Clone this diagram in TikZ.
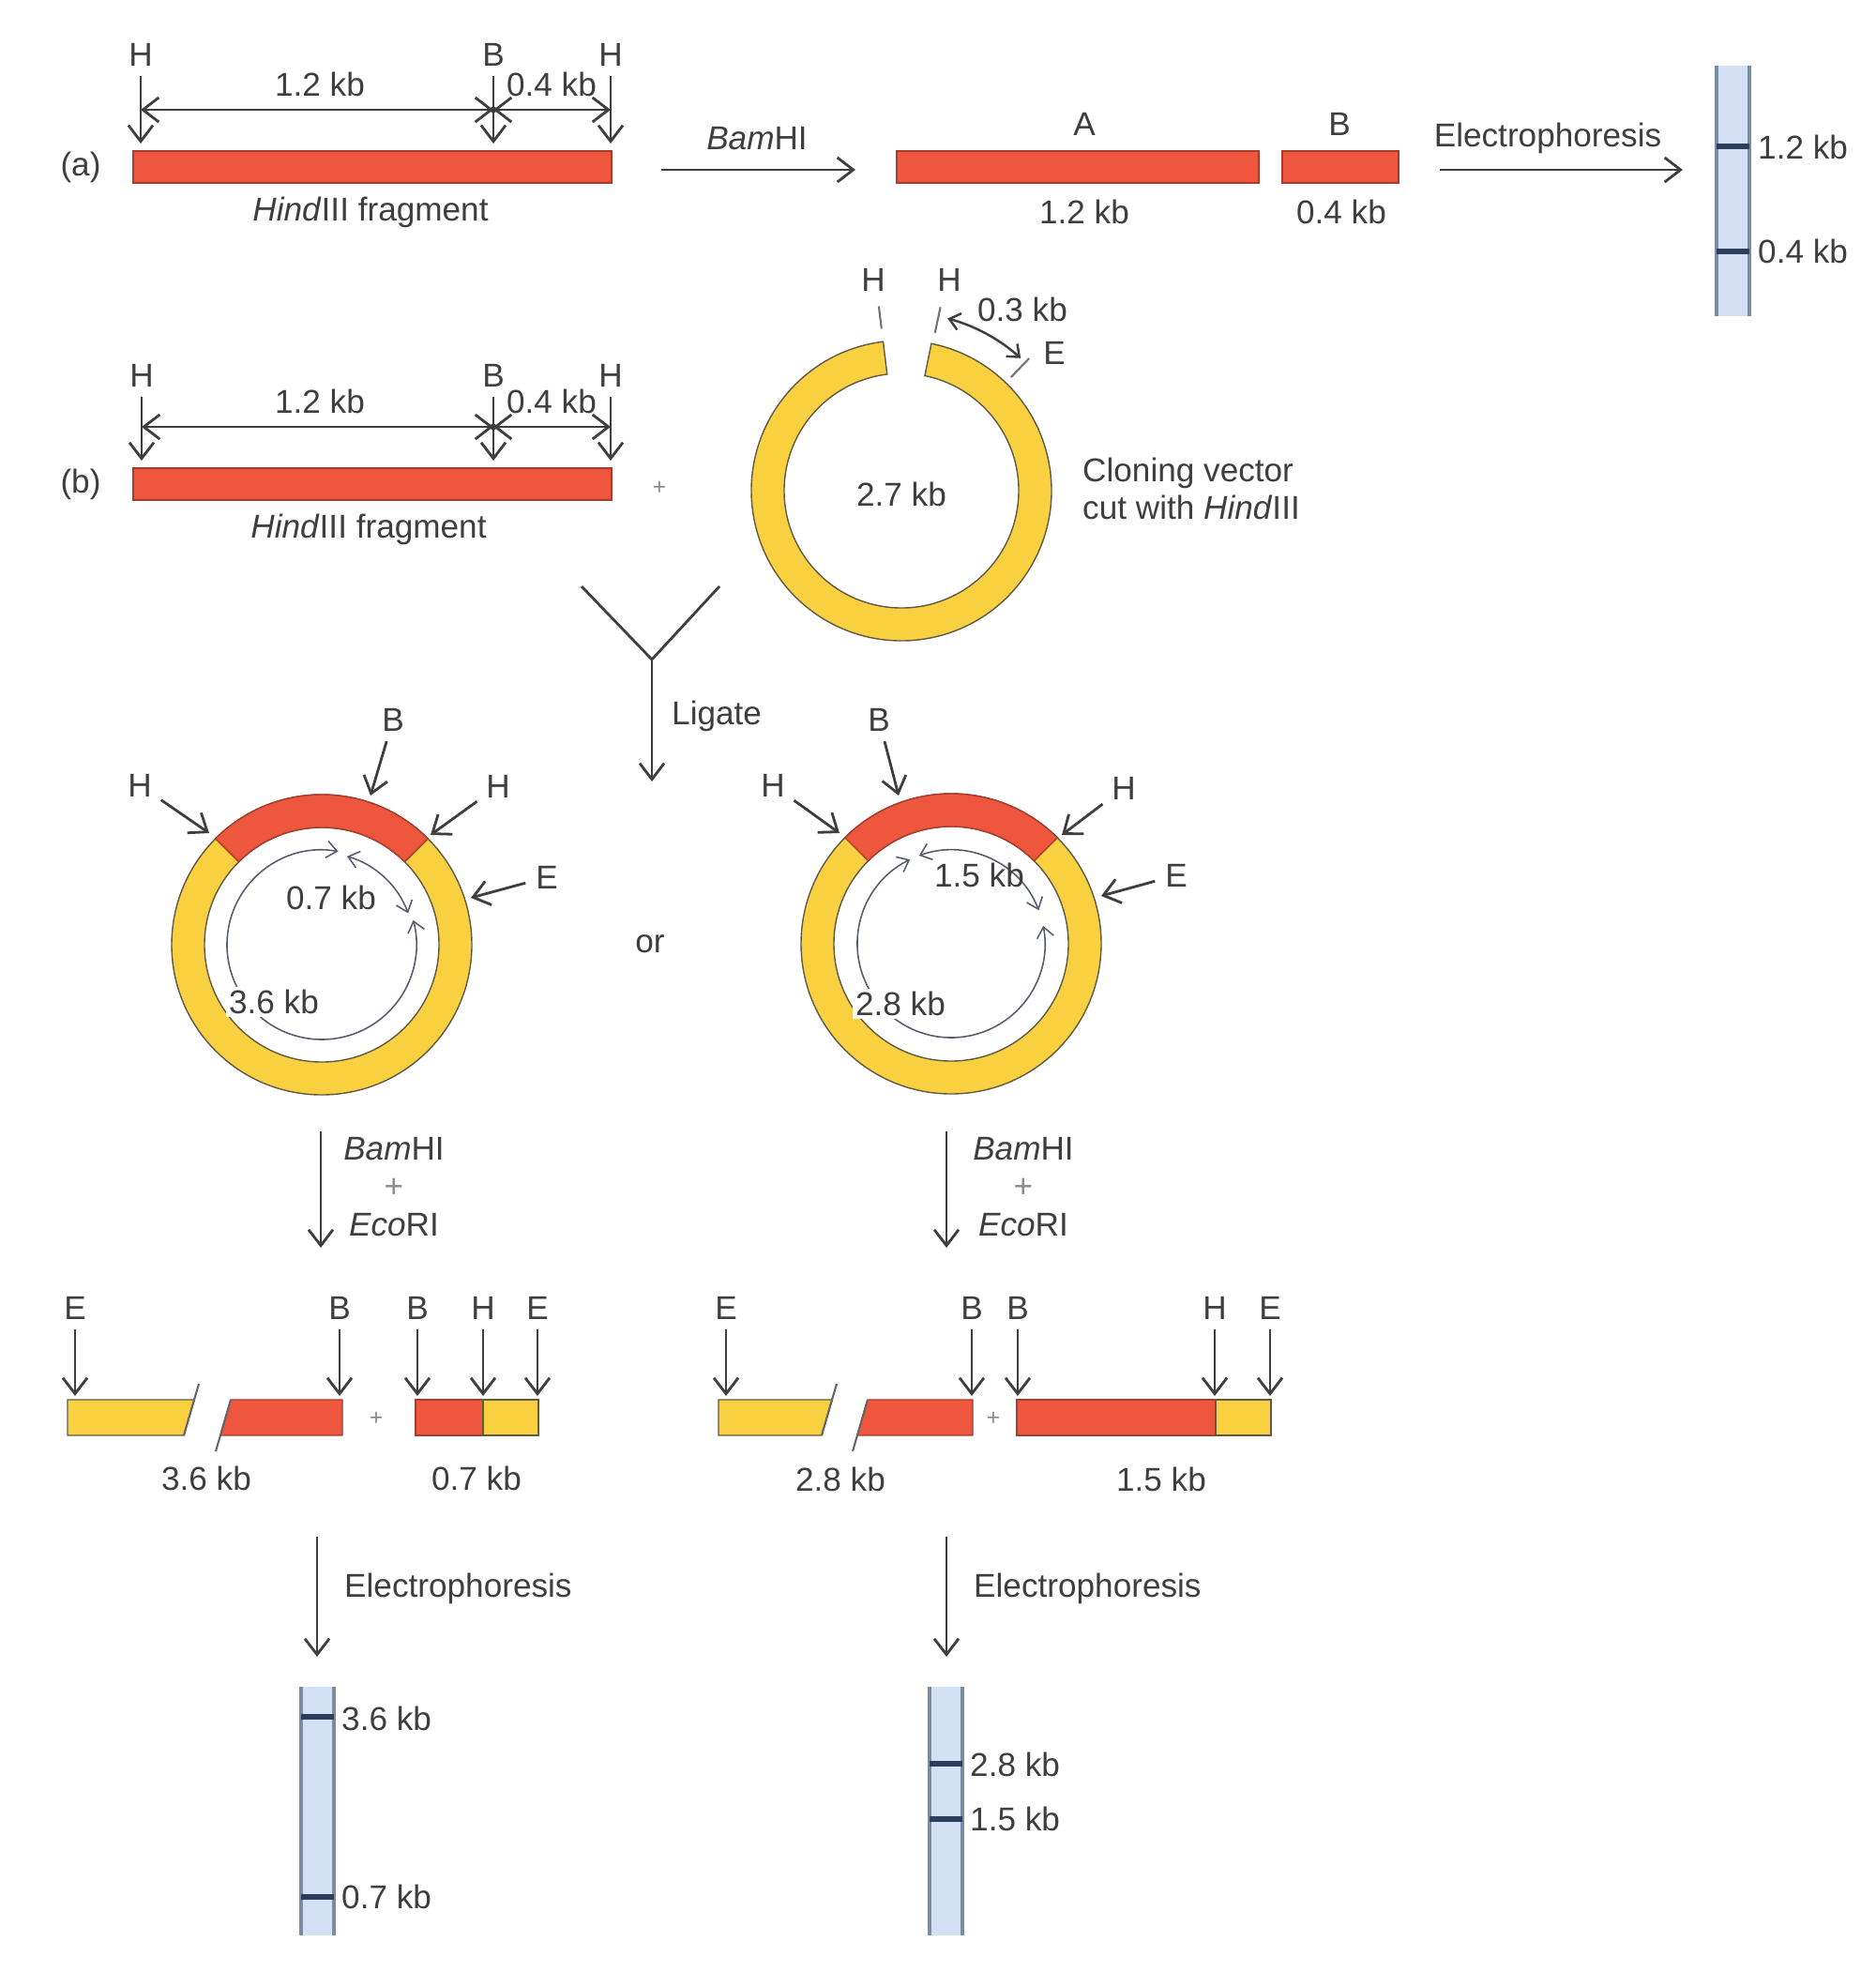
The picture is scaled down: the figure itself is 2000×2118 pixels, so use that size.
\documentclass[tikz,border=0pt]{standalone}
\usepackage{fontspec}
\setmainfont{Liberation Sans}
\usetikzlibrary{arrows.meta}
\definecolor{fragred}{RGB}{238,86,62}
\definecolor{vecyellow}{RGB}{249,208,64}
\definecolor{ringedge}{RGB}{95,90,70}
\definecolor{gelblue}{RGB}{210,225,243}
\definecolor{gelline}{RGB}{125,140,165}
\definecolor{bandcol}{RGB}{45,62,92}
\definecolor{inkgray}{RGB}{62,62,62}
\definecolor{arcgray}{RGB}{88,92,112}
\newcommand{\lblfont}{\fontsize{10}{11.4}\selectfont}
% annular piece of a plasmid ring: centre, from angle, to angle, style
\newcommand{\ringpart}[4]{%
  \draw[#4]
    ([shift={(#1)}]#2:160) arc[start angle=#2, end angle=#3, radius=160]
    -- ([shift={(#1)}]#3:125) arc[start angle=#3, end angle=#2, radius=125] -- cycle;}

\begin{document}
\begin{tikzpicture}[x=0.01cm, y=0.01cm,
  every node/.style={font=\lblfont, text=inkgray, inner sep=1pt},
  >={Straight Barb[length=1.7mm,width=2.6mm]},
  flow/.style={draw=inkgray, line width=0.8pt, ->},
  site/.style={draw=inkgray, line width=0.8pt, ->, shorten <=2pt},
  dimline/.style={draw=inkgray, line width=0.8pt, <->},
  redpiece/.style={fill=fragred, draw=fragred!70!black, line width=0.4pt},
  yelpiece/.style={fill=vecyellow, draw=ringedge, line width=0.4pt},
  breakline/.style={draw=black!60, line width=0.6pt},
  tickline/.style={draw=black!55, line width=0.6pt},
  innerarc/.style={draw=arcgray, line width=0.45pt, >={Straight Barb[length=1.1mm,width=1.8mm]}, <->},
  lanefill/.style={fill=gelblue, draw=none},
  laneedge/.style={draw=gelline, line width=1.2pt},
  bandline/.style={draw=bandcol, line width=1.8pt},
  faint/.style={text=black!45, font=\fontsize{7}{8}\selectfont}]

  \useasboundingbox (0,0) rectangle (2000,-2118);

  % ---------------- (a) BamHI digest of the HindIII fragment ----------------
  \node (aTag) at (86,-178) {(a)};
  \node (aH1) at (150,-58) {H};
  \node (aB)  at (526,-58) {B};
  \node (aH2) at (651,-58) {H};
  \coordinate (aH1t) at (150,-153);
  \coordinate (aBt)  at (526,-153);
  \coordinate (aH2t) at (651,-153);
  \draw[site] (aH1) -- (aH1t);
  \draw[site] (aB)  -- (aBt);
  \draw[site] (aH2) -- (aH2t);
  \coordinate (aD1) at (150,-117);
  \coordinate (aD2) at (526,-117);
  \coordinate (aD3) at (651,-117);
  \draw[dimline] (aD1) -- (aD2);
  \draw[dimline] (aD2) -- (aD3);
  \fill[inkgray] (aD2) circle (3.5);
  \node (aL12) at (341,-90) {1.2 kb};
  \node (aL04) at (588,-90) {0.4 kb};
  \draw[redpiece] (142,-161) rectangle (652,-195);
  \node (aFrag) at (395,-226) {\textit{Hind}III fragment};

  \coordinate (aCut1) at (705,-181);
  \coordinate (aCut2) at (912,-181);
  \draw[flow] (aCut1) -- (aCut2);
  \node (aBam) at (807,-148) {\textit{Bam}HI};

  % the two pieces
  \draw[redpiece] (956,-161) rectangle (1342,-195);
  \draw[redpiece] (1367,-161) rectangle (1491,-195);
  \node (aA)    at (1156,-132) {A};
  \node (aBB)   at (1428,-132) {B};
  \node (aA12)  at (1156,-226) {1.2 kb};
  \node (aB04)  at (1430,-226) {0.4 kb};

  \coordinate (aRun1) at (1535,-181);
  \coordinate (aRun2) at (1794,-181);
  \draw[flow] (aRun1) -- (aRun2);
  \node (aElec) at (1650,-147) {Electrophoresis};

  % gel lane
  \fill[lanefill] (1830,-70) rectangle (1865,-337);
  \draw[laneedge] (1830,-70) -- (1830,-337) (1865,-70) -- (1865,-337);
  \draw[bandline] (1830,-156) -- (1865,-156);
  \draw[bandline] (1830,-268) -- (1865,-268);
  \node[anchor=west] (aG12) at (1870,-157) {1.2 kb};
  \node[anchor=west] (aG04) at (1870,-268) {0.4 kb};

  % ---------------- (b) fragment and cut vector ----------------
  \node (bTag) at (86,-516) {(b)};
  \node (bH1) at (151,-400) {H};
  \node (bB)  at (526,-400) {B};
  \node (bH2) at (651,-400) {H};
  \coordinate (bH1t) at (151,-491);
  \coordinate (bBt)  at (526,-491);
  \coordinate (bH2t) at (651,-491);
  \draw[site] (bH1) -- (bH1t);
  \draw[site] (bB)  -- (bBt);
  \draw[site] (bH2) -- (bH2t);
  \coordinate (bD1) at (151,-455);
  \coordinate (bD2) at (526,-455);
  \coordinate (bD3) at (651,-455);
  \draw[dimline] (bD1) -- (bD2);
  \draw[dimline] (bD2) -- (bD3);
  \fill[inkgray] (bD2) circle (3.5);
  \node (bL12) at (341,-428) {1.2 kb};
  \node (bL04) at (588,-428) {0.4 kb};
  \draw[redpiece] (142,-499) rectangle (652,-533);
  \node (bFrag) at (393,-564) {\textit{Hind}III fragment};
  \node[faint] (bPlus) at (703,-520) {+};

  % vector opened at its HindIII site
  \coordinate (C0) at (961,-523);
  \ringpart{C0}{97}{438.5}{yelpiece}
  \draw[tickline] ([shift={(C0)}]97:174) -- ([shift={(C0)}]97:198);
  \draw[tickline] ([shift={(C0)}]78:172) -- ([shift={(C0)}]78:200);
  \draw[tickline] ([shift={(C0)}]46:168) -- ([shift={(C0)}]46:196);
  \node (vH1) at (931,-298) {H};
  \node (vH2) at (1012,-298) {H};
  \node (vE)  at (1124,-376) {E};
  \draw[innerarc, line width=0.7pt, draw=inkgray] ([shift={(C0)}]75:190) arc[start angle=75, end angle=48, radius=190];
  \node (v03) at (1090,-330) {0.3 kb};
  \node (v27) at (961,-527) {2.7 kb};
  \node[anchor=west, align=left] (vText) at (1150,-521) {Cloning vector\\cut with \textit{Hind}III};

  % ligation
  \coordinate (yL) at (620,-625);
  \coordinate (yR) at (767,-625);
  \coordinate (yJ) at (695,-703);
  \coordinate (yEnd) at (695,-833);
  \draw[draw=inkgray, line width=0.8pt] (yL) -- (yJ) -- (yR);
  \draw[flow] (yJ) -- (yEnd);
  \node[anchor=west] (yLig) at (712,-763) {Ligate};
  \node (orWord) at (693,-1006) {or};

  % ---------------- recombinant plasmid 1 ----------------
  \coordinate (C1) at (343,-1007);
  \filldraw[fill=vecyellow, draw=ringedge, line width=0.4pt, even odd rule] (C1) circle (160) (C1) circle (125);
  \ringpart{C1}{45}{135}{redpiece}
  \node (pH1) at (149,-837) {H};
  \node (pB)  at (419,-767) {B};
  \node (pH2) at (531,-838) {H};
  \node (pE)  at (583,-935) {E};
  \coordinate (pH1t) at (223,-888);
  \coordinate (pBt)  at (395,-848);
  \coordinate (pH2t) at (459,-890);
  \coordinate (pEt)  at (502,-957);
  \draw[site] (pH1) -- (pH1t);
  \draw[site] (pB)  -- (pBt);
  \draw[site] (pH2) -- (pH2t);
  \draw[site] (pE)  -- (pEt);
  \draw[innerarc] ([shift={(C1)}]74:98) arc[start angle=74, end angle=20, radius=98];
  \draw[innerarc] ([shift={(C1)}]80:101) arc[start angle=80, end angle=375, radius=101];
  \node (p07) at (353,-957) {0.7 kb};
  \node[fill=white] (p36) at (292,-1068) {3.6 kb};

  % ---------------- recombinant plasmid 2 ----------------
  \coordinate (C2) at (1014,-1006);
  \filldraw[fill=vecyellow, draw=ringedge, line width=0.4pt, even odd rule] (C2) circle (160) (C2) circle (125);
  \ringpart{C2}{45}{135}{redpiece}
  \node (qH1) at (824,-837) {H};
  \node (qB)  at (937,-767) {B};
  \node (qH2) at (1198,-840) {H};
  \node (qE)  at (1254,-933) {E};
  \coordinate (qH1t) at (895,-888);
  \coordinate (qBt)  at (958,-848);
  \coordinate (qH2t) at (1132,-890);
  \coordinate (qEt)  at (1174,-955);
  \draw[site] (qH1) -- (qH1t);
  \draw[site] (qB)  -- (qBt);
  \draw[site] (qH2) -- (qH2t);
  \draw[site] (qE)  -- (qEt);
  \draw[innerarc] ([shift={(C2)}]110:100) arc[start angle=110, end angle=21, radius=100];
  \draw[innerarc] ([shift={(C2)}]116:100) arc[start angle=116, end angle=371, radius=100];
  \node (q15) at (1044,-933) {1.5 kb};
  \node[fill=white] (q28) at (960,-1070) {2.8 kb};

  % ---------------- double digests ----------------
  \coordinate (dL1) at (342,-1206);
  \coordinate (dL2) at (342,-1330);
  \draw[flow] (dL1) -- (dL2);
  \node[align=center] (dLtxt) at (420,-1265) {\textit{Bam}HI\\\textcolor{black!45}{+}\\\textit{Eco}RI};
  \coordinate (dR1) at (1009,-1206);
  \coordinate (dR2) at (1009,-1330);
  \draw[flow] (dR1) -- (dR2);
  \node[align=center] (dRtxt) at (1091,-1265) {\textit{Bam}HI\\\textcolor{black!45}{+}\\\textit{Eco}RI};

  % left products
  \draw[yelpiece] (72,-1492) -- (207,-1492) -- (196,-1530) -- (72,-1530) -- cycle;
  \draw[breakline] (196,-1530) -- (212,-1475);
  \draw[redpiece] (246,-1492) -- (365,-1492) -- (365,-1530) -- (235,-1530) -- cycle;
  \draw[breakline] (246,-1492) -- (230,-1547);
  \draw[redpiece] (443,-1492) rectangle (515,-1530);
  \draw[yelpiece] (515,-1492) rectangle (574,-1530);
  \node[faint] (rPlusL) at (401,-1512) {+};
  \node (rE1) at (80,-1394) {E};
  \node (rB1) at (362,-1394) {B};
  \node (rB2) at (445,-1394) {B};
  \node (rH1) at (515,-1394) {H};
  \node (rE2) at (573,-1394) {E};
  \foreach \s/\x in {rE1/80, rB1/362, rB2/445, rH1/515, rE2/573}
    \draw[site] (\s) -- (\x,-1488);
  \node (r36) at (220,-1576) {3.6 kb};
  \node (r07) at (508,-1576) {0.7 kb};

  % right products
  \draw[yelpiece] (766,-1492) -- (887,-1492) -- (876,-1530) -- (766,-1530) -- cycle;
  \draw[breakline] (876,-1530) -- (892,-1475);
  \draw[redpiece] (925,-1492) -- (1037,-1492) -- (1037,-1530) -- (914,-1530) -- cycle;
  \draw[breakline] (925,-1492) -- (909,-1547);
  \draw[redpiece] (1084,-1492) rectangle (1296,-1530);
  \draw[yelpiece] (1296,-1492) rectangle (1355,-1530);
  \node[faint] (rPlusR) at (1059,-1512) {+};
  \node (sE1) at (774,-1394) {E};
  \node (sB1) at (1036,-1394) {B};
  \node (sB2) at (1085,-1394) {B};
  \node (sH1) at (1295,-1394) {H};
  \node (sE2) at (1354,-1394) {E};
  \foreach \s/\x in {sE1/774, sB1/1036, sB2/1085, sH1/1295, sE2/1354}
    \draw[site] (\s) -- (\x,-1488);
  \node (s28) at (896,-1577) {2.8 kb};
  \node (s15) at (1238,-1577) {1.5 kb};

  % ---------------- electrophoresis of the digests ----------------
  \coordinate (eL1) at (338,-1638);
  \coordinate (eL2) at (338,-1766);
  \draw[flow] (eL1) -- (eL2);
  \node[anchor=west] (eLtxt) at (363,-1693) {Electrophoresis};
  \coordinate (eR1) at (1009,-1638);
  \coordinate (eR2) at (1009,-1766);
  \draw[flow] (eR1) -- (eR2);
  \node[anchor=west] (eRtxt) at (1034,-1693) {Electrophoresis};

  \fill[lanefill] (321,-1798) rectangle (356,-2063);
  \draw[laneedge] (321,-1798) -- (321,-2063) (356,-1798) -- (356,-2063);
  \draw[bandline] (321,-1830) -- (356,-1830);
  \draw[bandline] (321,-2022) -- (356,-2022);
  \node[anchor=west] (gL36) at (360,-1832) {3.6 kb};
  \node[anchor=west] (gL07) at (360,-2022) {0.7 kb};

  \fill[lanefill] (991,-1798) rectangle (1026,-2063);
  \draw[laneedge] (991,-1798) -- (991,-2063) (1026,-1798) -- (1026,-2063);
  \draw[bandline] (991,-1880) -- (1026,-1880);
  \draw[bandline] (991,-1939) -- (1026,-1939);
  \node[anchor=west] (gR28) at (1030,-1881) {2.8 kb};
  \node[anchor=west] (gR15) at (1030,-1939) {1.5 kb};

\end{tikzpicture}
\end{document}
